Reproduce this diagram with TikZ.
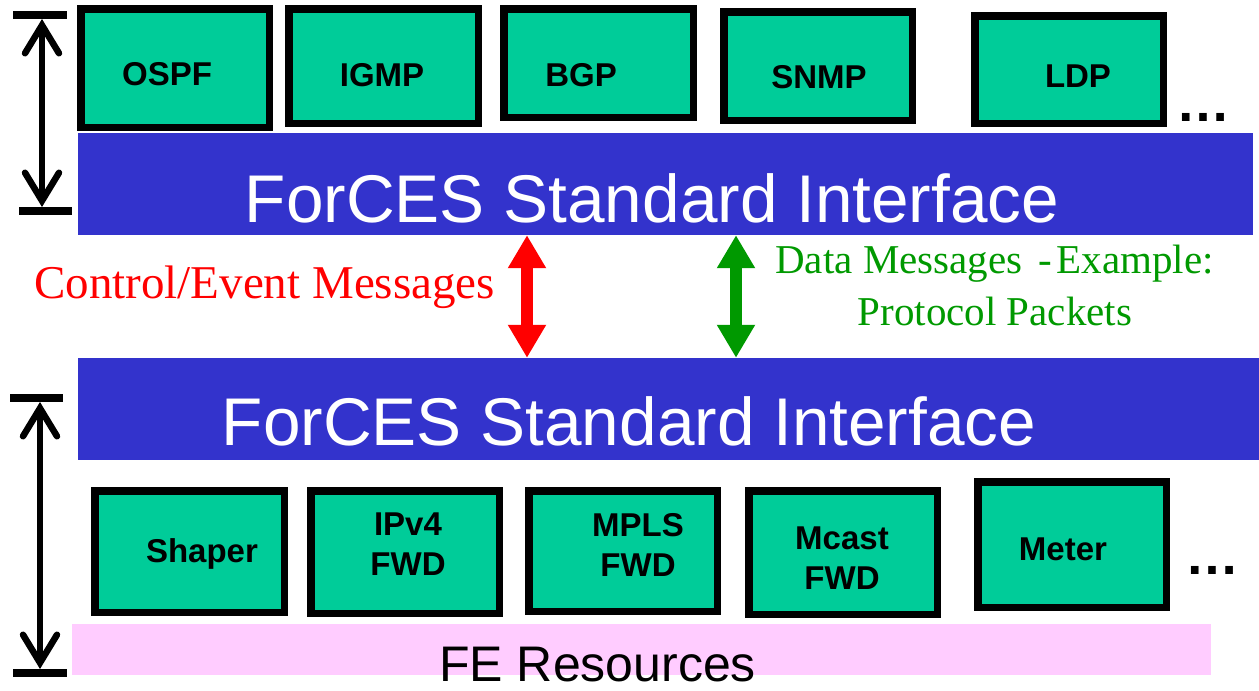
\documentclass[tikz,border=0pt]{standalone}
\usepackage{fontspec}
\setmainfont{Liberation Serif}
\newfontfamily\arialfont{Liberation Sans}
\usetikzlibrary{arrows.meta}
\definecolor{fegreen}{RGB}{0,204,153}
\definecolor{ifblue}{RGB}{51,51,204}
\definecolor{fepink}{RGB}{255,204,255}
\definecolor{datagreen}{RGB}{0,153,0}
\tikzset{
  fe box/.style={draw=black, line width=7.5pt, fill=fegreen, inner sep=0pt},
  fe label/.style={font=\arialfont\bfseries\fontsize{33}{40}\selectfont, align=center, inner sep=0pt, anchor=north},
  iface bar/.style={fill=ifblue, inner sep=0pt},
  iface text/.style={font=\arialfont\fontsize{67.5}{80}\selectfont, text=white, inner sep=0pt, anchor=base},
  msg text/.style={font=\fontsize{47}{56}\selectfont, inner sep=0pt},
  msg arrow/.style={line width=12pt, {Triangle[length=33pt,width=36pt]}-{Triangle[length=33pt,width=36pt]}},
  dim bar/.style={line width=8pt},
  dim arrow/.style={line width=6.5pt, line cap=round, {Straight Barb[length=28pt,width=34pt,line cap=round]}-{Straight Barb[length=28pt,width=34pt,line cap=round]}},
  more/.style={font=\arialfont\bfseries\fontsize{54}{60}\selectfont, inner sep=0pt, anchor=base}
}
\begin{document}
\begin{tikzpicture}[x=1pt,y=-1pt]
  \useasboundingbox (0,0) rectangle (1259,691);
  \clip (0,0) rectangle (1259,691);

  \foreach \nm/\cx/\cy/\w/\h in {ospf/175/68/188.5/118.5, igmp/383.5/66/189.5/114.5, bgp/598.5/63/189.5/108.5, snmp/818/66/188.5/108.5, ldp/1069/69.5/188.5/107.5}
    \node[fe box, minimum width=\w pt, minimum height=\h pt] (\nm) at (\cx,\cy) {};
  \foreach \nm/\cx/\cy/\w/\h in {shaper/189.5/551.5/189.5/121.5, ipv4/405/552/188.5/122.5, mpls/623/551/188.5/120.5, mcast/843/552.5/188.5/123.5, meter/1072/544.5/188.5/125.5}
    \node[fe box, minimum width=\w pt, minimum height=\h pt] (\nm) at (\cx,\cy) {};
  \foreach \nm/\x/\y/\txt in {ospf/167/62/OSPF, igmp/382/63/IGMP, bgp/581/63/BGP, snmp/819/65/SNMP, ldp/1078/65/LDP, shaper/202/538/Shaper, ipv4/408/513/{IPv4\\FWD}, mpls/638/513/{MPLS\\FWD}, mcast/842/527/{Mcast\\FWD}, meter/1063/538/Meter}
    \node[fe label] (\nm-t) at (\x,\y) {\txt};
  \node[more] (top-more) at (1203.5,121) {…};
  \node[more] (bot-more) at (1212.5,574) {…};

  \node[iface bar, minimum width=1175pt, minimum height=102pt] (topbar) at (665.5,184) {};
  \node[iface text] (topbar-t) at (652,222) {ForCES Standard Interface};
  \node[iface bar, minimum width=1181pt, minimum height=102pt] (botbar) at (668.5,409) {};
  \node[iface text] (botbar-t) at (629,445) {ForCES Standard Interface};

  \node[fill=fepink, inner sep=0pt, minimum width=1139pt, minimum height=51pt] (res) at (641.5,649.5) {};
  \node[font=\arialfont\fontsize{50}{60}\selectfont, inner sep=0pt, anchor=base west] (res-t) at (439,681) {FE Resources};

  \coordinate (ctl) at (527,0);
  \coordinate (dat) at (736,0);
  \draw[msg arrow, red] (ctl |- topbar.south) -- (ctl |- botbar.north);
  \draw[msg arrow, datagreen] (dat |- topbar.south) -- (dat |- botbar.north);
  \node[msg text, text=red, anchor=base west] (ctl-t) at (34,298) {Control/Event Messages};
  \node[msg text, text=datagreen, font=\fontsize{41}{50}\selectfont, anchor=base] (dat-t1) at (994.5,273) {Data Messages\hspace{0.4em}-\hspace{0.1em}Example:};
  \node[msg text, text=datagreen, font=\fontsize{41}{50}\selectfont, anchor=base] (dat-t2) at (995,325) {Protocol Packets};

  \coordinate (ce-hi) at (42,15);
  \coordinate (ce-lo) at (42,211);
  \draw[dim bar] ([xshift=-29pt]ce-hi) -- ([xshift=25pt]ce-hi);
  \draw[dim bar] ([xshift=-23pt]ce-lo) -- ([xshift=30pt]ce-lo);
  \draw[dim arrow] ([yshift=-4pt]ce-hi) -- ([yshift=4pt]ce-lo);
  \coordinate (fe-hi) at (40,398);
  \coordinate (fe-lo) at (40,673);
  \draw[dim bar] ([xshift=-30pt]fe-hi) -- ([xshift=23pt]fe-hi);
  \draw[dim bar] ([xshift=-27pt]fe-lo) -- ([xshift=27pt]fe-lo);
  \draw[dim arrow] ([yshift=-4pt]fe-hi) -- ([yshift=4pt]fe-lo);
\end{tikzpicture}
\end{document}
